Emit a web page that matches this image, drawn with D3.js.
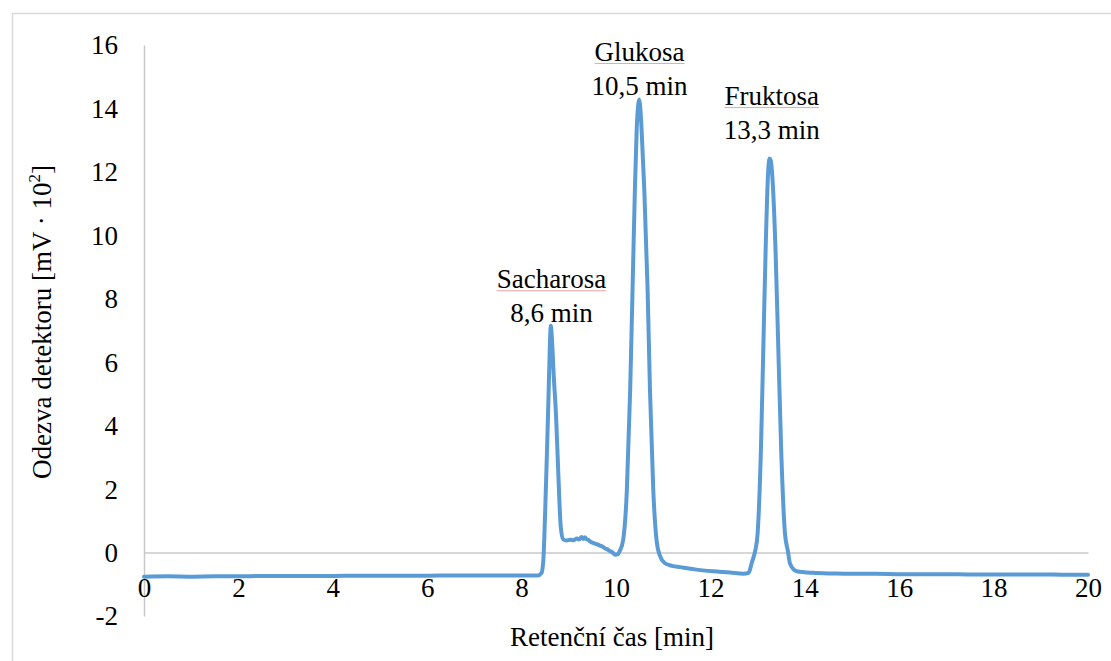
<!DOCTYPE html>
<html>
<head>
<meta charset="utf-8">
<script src="https://cdn.jsdelivr.net/npm/d3@7"></script>
</head>
<body style="margin:0;background:#fff">
<svg id="chart" width="1111" height="661" style="display:block"></svg>
<script>
// Retention time [min]
const time = [
  0, 0.5, 1, 1.5, 2, 2.5, 3, 3.5, 4, 4.5, 5, 5.5, 6, 6.5, 7, 7.5, 8, 8.2, 8.35,
  8.42, 8.46, 8.50, 8.54, 8.57, 8.60, 8.62, 8.64, 8.68, 8.73, 8.78, 8.83, 8.88,
  8.95, 9.03, 9.10, 9.17, 9.22, 9.27, 9.31, 9.34, 9.38, 9.41, 9.47, 9.53, 9.60,
  9.66, 9.72, 9.77, 9.82, 9.87, 9.93, 9.98, 10.04, 10.08,
  10.15, 10.23, 10.30, 10.35, 10.40, 10.44, 10.47, 10.49, 10.51, 10.54, 10.60,
  10.67, 10.72, 10.79, 10.86, 10.93, 11.03, 11.19, 11.36, 11.67, 12.06, 12.42,
  12.70, 12.81, 12.88, 12.95, 13.00, 13.07, 13.12, 13.17, 13.22, 13.25, 13.28,
  13.31, 13.38, 13.44, 13.50, 13.58, 13.64, 13.69, 13.83, 14.17, 14.6, 15,
  15.5, 16, 16.5, 17, 17.5, 18, 18.5, 19, 19.5, 20
];

// Detector response [mV · 10²]
const response = [
  -0.76, -0.75, -0.76, -0.75, -0.75, -0.74, -0.74, -0.74, -0.74, -0.73, -0.73, -0.73, -0.73, -0.72, -0.72, -0.72, -0.72, -0.72, -0.72,
  -0.65, -0.25, 1.32, 3.3, 4.9, 6.6, 7.15, 6.8, 5.6, 4.3, 2.4, 0.8, 0.42,
  0.38, 0.40, 0.39, 0.44, 0.41, 0.49, 0.43, 0.48, 0.42, 0.40, 0.33, 0.30, 0.26,
  0.22, 0.18, 0.13, 0.10, 0.05, 0.00, -0.07, -0.05, 0.05,
  0.38, 1.96, 5.11, 8.26, 11.42, 13.4, 14.1, 14.28, 14.1, 13.4, 11.42,
  8.26, 5.11, 1.96, 0.38, -0.10, -0.33, -0.42, -0.46, -0.53, -0.59, -0.63,
  -0.67, -0.64, -0.30, 0.06, 0.60, 3.22, 6.37, 9.53, 11.9, 12.42, 12.35,
  11.9, 9.53, 6.37, 3.22, 0.60, 0.06, -0.36, -0.59, -0.64, -0.66, -0.67,
  -0.67, -0.68, -0.68, -0.68, -0.69, -0.69, -0.69, -0.69, -0.70, -0.70
];

const xTicks = [0, 2, 4, 6, 8, 10, 12, 14, 16, 18, 20];
const yTicks = [-2, 0, 2, 4, 6, 8, 10, 12, 14, 16];

// Peak annotations: compound name and retention time
const peakNames = ["Sacharosa", "Glukosa", "Fruktosa"];
const peakTimes = [8.6, 10.5, 13.3];
const peakLabels = ["8,6 min", "10,5 min", "13,3 min"];
const peakLabelTops = [7.15, 14.28, 12.42];

const FONT = "Liberation Serif";
const svg = d3.select("#chart");
const W = 1111, H = 661;
const fontSize = 27;

svg.append("rect").attr("width", W).attr("height", H).attr("fill", "#fff");
// chart frame
svg.append("rect")
  .attr("x", 12.5).attr("y", 13.5)
  .attr("width", W + 10).attr("height", H + 10)
  .attr("fill", "none").attr("stroke", "#d9d9d9").attr("stroke-width", 1.5);

const x = d3.scaleLinear().domain([0, 20]).range([144, 1088]);
const y = d3.scaleLinear().domain([-2, 16]).range([616, 45]);

// vertical axis
const yAxis = svg.append("g")
  .attr("transform", `translate(${x(0)},0)`)
  .call(d3.axisLeft(y).tickValues(yTicks).tickSize(0).tickPadding(26).tickFormat(d => String(d)));
yAxis.attr("font-family", FONT).attr("font-size", fontSize);
yAxis.select(".domain").attr("stroke", "#c8c8c8").attr("stroke-width", 1.5);
yAxis.selectAll("text").attr("fill", "#000").attr("dy", "0.33em");

// horizontal axis along zero
const xAxis = svg.append("g")
  .attr("transform", `translate(0,${y(0)})`)
  .call(d3.axisBottom(x).tickValues(xTicks).tickSize(0).tickFormat(d => String(d)));
xAxis.attr("font-family", FONT).attr("font-size", fontSize);
xAxis.select(".domain").attr("stroke", "#c8c8c8").attr("stroke-width", 1.5);
xAxis.selectAll("text").attr("fill", "#000")
  .attr("dy", null).attr("y", 597 - y(0));

// chromatogram trace
const pts = time.map((t, i) => [t, response[i]]);
svg.append("path")
  .datum(pts)
  .attr("fill", "none")
  .attr("stroke", "#5b9bd5")
  .attr("stroke-width", 4)
  .attr("stroke-linejoin", "round")
  .attr("stroke-linecap", "round")
  .attr("d", d3.line().x(d => x(d[0])).y(d => y(d[1])).curve(d3.curveMonotoneX));

// peak annotations, placed just above each peak apex
const labelGap = [4, 5, 20];
const labelShift = [1.5, 0, 0];
const ann = svg.append("g")
  .attr("font-family", FONT).attr("font-size", fontSize).attr("fill", "#000").attr("text-anchor", "middle");
const nameNodes = [];
peakNames.forEach((name, i) => {
  const cx = x(peakTimes[i]) + labelShift[i];
  const base = y(peakLabelTops[i]) - labelGap[i];
  const t1 = ann.append("text").attr("x", cx).attr("y", base - 34).text(name);
  ann.append("text").attr("x", cx).attr("y", base).text(peakLabels[i]);
  nameNodes.push({ node: t1.node(), cx, yl: base - 34 + 3 });
});

// vertical axis title
const yt = svg.append("text")
  .attr("transform", `translate(51,${322}) rotate(-90)`)
  .attr("font-family", FONT)
  .attr("text-anchor", "middle").attr("font-size", fontSize).attr("fill", "#000");
yt.append("tspan").text("Odezva detektoru [mV · 10");
yt.append("tspan").attr("font-size", 17).attr("dy", -11).text("2");
yt.append("tspan").attr("dy", 11).text("]");

// horizontal axis title
svg.append("text")
  .attr("x", 612).attr("y", 646)
  .attr("font-family", FONT)
  .attr("text-anchor", "middle").attr("font-size", fontSize).attr("fill", "#000")
  .text("Retenční čas [min]");

// spell-check style underlines under the compound names, measured once fonts are ready
document.fonts.ready.then(() => {
  nameNodes.forEach(({ node, cx, yl }) => {
    const w = node.getComputedTextLength();
    ann.append("line")
      .attr("x1", cx - w / 2).attr("x2", cx + w / 2)
      .attr("y1", yl).attr("y2", yl)
      .attr("stroke", "#f2a3a3").attr("stroke-width", 1);
  });
});
</script>
</body>
</html>
